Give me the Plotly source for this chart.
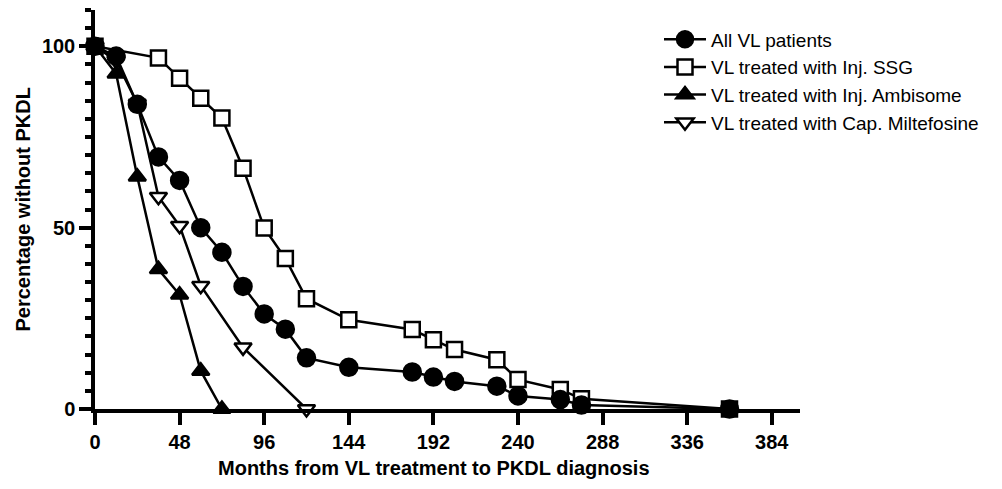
import plotly.graph_objects as go

# ---- data (months, percentage without PKDL) ----
all_x = [0, 12, 24, 36, 48, 60, 72, 84, 96, 108, 120, 144, 180, 192, 204, 228, 240, 264, 276, 360]
all_y = [100, 97.3, 84, 69.5, 63, 50, 43.2, 33.8, 26.2, 22, 14.1, 11.5, 10.2, 8.8, 7.6, 6.3, 3.6, 2.6, 1.1, 0]

ssg_x = [0, 36, 48, 60, 72, 84, 96, 108, 120, 144, 180, 192, 204, 228, 240, 264, 276, 360]
ssg_y = [100, 96.8, 91.2, 85.7, 80.2, 66.4, 49.9, 41.5, 30.4, 24.6, 21.9, 19.1, 16.4, 13.6, 8.1, 5.4, 2.8, 0]

amb_x = [0, 12, 24, 36, 48, 60, 72]
amb_y = [100, 92.4, 64, 38.5, 31.5, 10.5, 0]

mil_x = [0, 12, 24, 36, 48, 60, 84, 120]
mil_y = [100, 96, 84.2, 58.5, 50.5, 34, 17, 0]

x_ticks = [0, 48, 96, 144, 192, 240, 288, 336, 384]
y_ticks = [0, 50, 100]

names = ["All VL patients", "VL treated with Inj. SSG",
         "VL treated with Inj. Ambisome", "VL treated with Cap. Miltefosine"]

FONT = "Liberation Sans, Arial, sans-serif"
LW = 2.5

fig = go.Figure()

def add(x, y, name, symbol, fill, size, rank, group):
    fig.add_trace(go.Scatter(
        x=x, y=y, name=name, mode="lines+markers",
        line=dict(color="black", width=LW),
        marker=dict(symbol=symbol, size=size, color=fill,
                    line=dict(color="black", width=2.5)),
        cliponaxis=False, legendrank=rank, legendgroup=group,
    ))

# drawing order: Miltefosine, SSG, Ambisome, All VL (on top)
add(mil_x, mil_y, names[3], "triangle-down", "white", 15, 4, "d")
add(ssg_x, ssg_y, names[1], "square", "white", 15, 2, "b")
add(amb_x, amb_y, names[2], "triangle-up", "black", 15, 3, "c")
add(all_x, all_y, names[0], "circle", "black", 17, 1, "a")

fig.update_layout(
    width=1002, height=489,
    margin=dict(l=87, r=210, t=2, b=88),
    paper_bgcolor="white", plot_bgcolor="white",
    showlegend=True,
    legend=dict(x=0.80, y=0.974, xanchor="left", yanchor="top",
                font=dict(family=FONT, size=19, color="black"),
                tracegroupgap=3, bgcolor="rgba(0,0,0,0)", itemwidth=42,
                traceorder="normal"),
    font=dict(family=FONT, color="black"),
)

fig.update_xaxes(
    range=[0, 400], tickvals=x_ticks, ticktext=[str(v) for v in x_ticks],
    showgrid=False, zeroline=False,
    showline=True, linecolor="black", linewidth=3.5,
    ticks="outside", ticklen=12, tickwidth=3.5, tickcolor="black",
    tickfont=dict(family=FONT, size=20, color="black", weight="bold"),
    ticklabelstandoff=0,
)
fig.update_yaxes(
    range=[0, 110], tickvals=y_ticks, ticktext=[str(v) for v in y_ticks],
    showgrid=False, zeroline=False,
    showline=True, linecolor="black", linewidth=3.5,
    ticks="outside", ticklen=12, tickwidth=3.5, tickcolor="black",
    minor=dict(dtick=5, tick0=0, ticks="outside", ticklen=6, tickwidth=3.5, tickcolor="black", showgrid=False),
    tickfont=dict(family=FONT, size=20, color="black", weight="bold"),
    ticklabelstandoff=0,
)

fig.add_annotation(text="Months from VL treatment to PKDL diagnosis",
                   xref="paper", yref="paper", x=0.481, y=-0.148,
                   showarrow=False, xanchor="center", yanchor="middle",
                   font=dict(family=FONT, size=20, color="black", weight="bold"))
fig.add_annotation(text="Percentage without PKDL",
                   xref="paper", yref="paper", x=-0.1035, y=0.5,
                   showarrow=False, xanchor="center", yanchor="middle", textangle=-90,
                   font=dict(family=FONT, size=20, color="black", weight="bold"))

fig.write_html("out.html")
